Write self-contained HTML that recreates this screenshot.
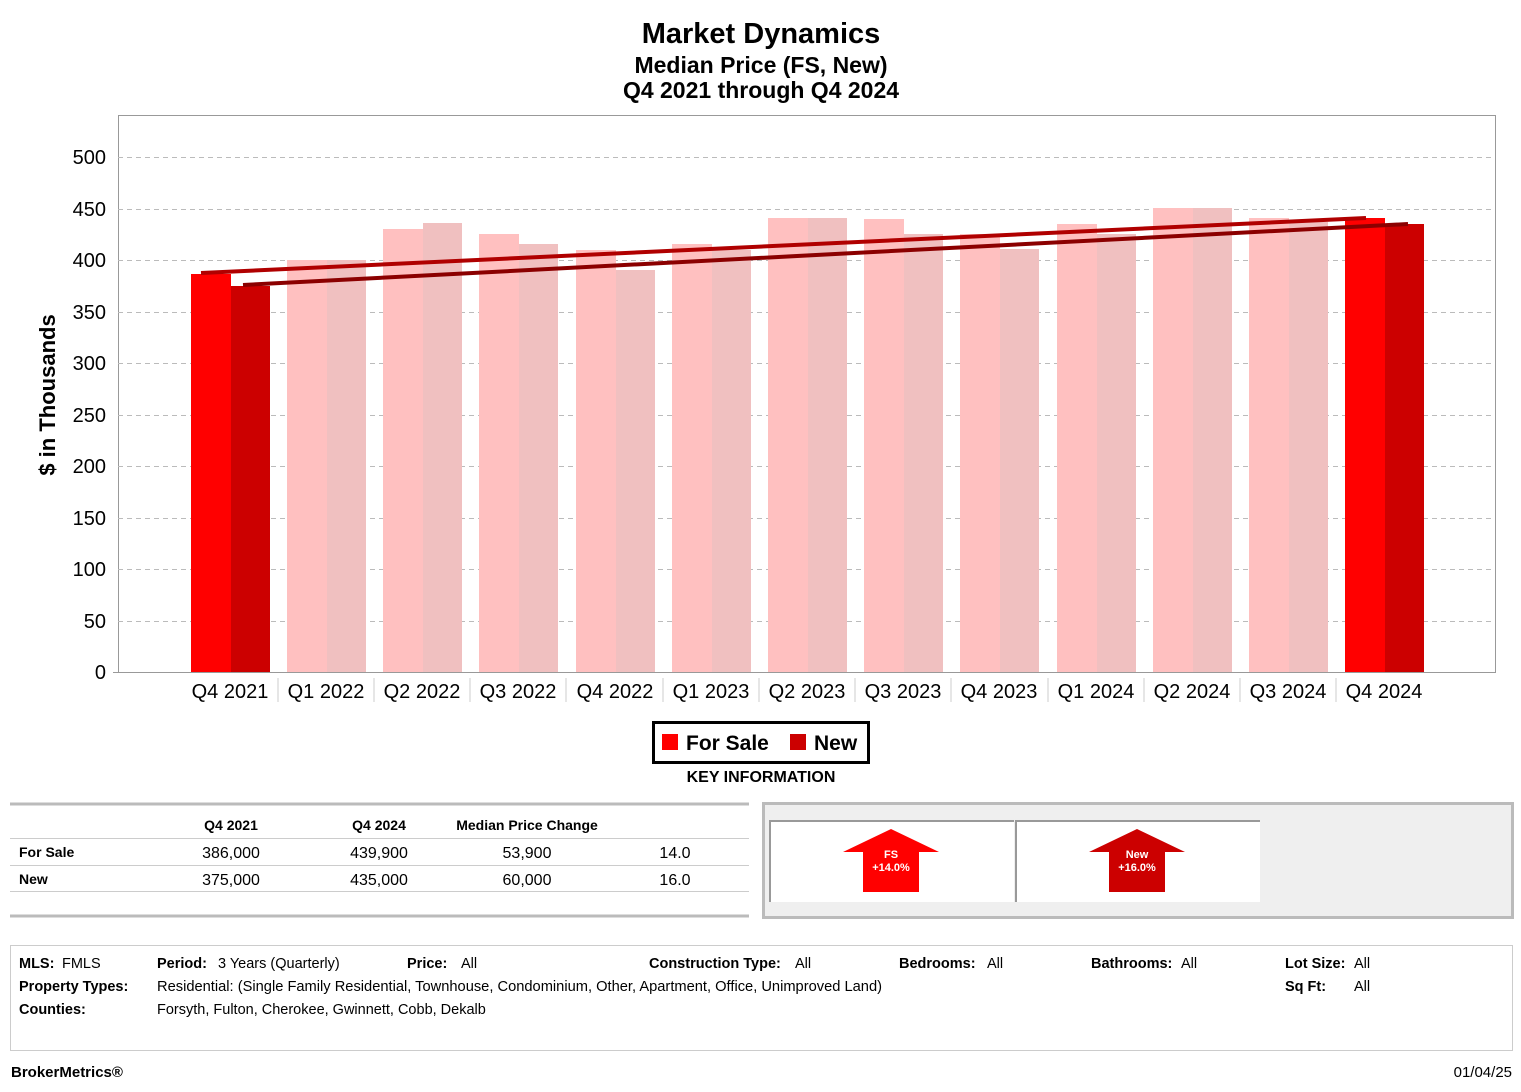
<!DOCTYPE html>
<html><head><meta charset="utf-8"><style>
body{margin:0;background:#fff;font-family:"Liberation Sans",sans-serif;}
</style></head><body>
<svg width="1521" height="1087" xmlns="http://www.w3.org/2000/svg" font-family="Liberation Sans, sans-serif">
<rect width="1521" height="1087" fill="#fff"/>
<text x="761" y="43" font-size="29" font-weight="bold" text-anchor="middle">Market Dynamics</text>
<text x="761" y="73" font-size="23" font-weight="bold" text-anchor="middle">Median Price (FS, New)</text>
<text x="761" y="98" font-size="23" font-weight="bold" text-anchor="middle">Q4 2021 through Q4 2024</text>
<rect x="118.5" y="115.5" width="1377" height="557" fill="none" stroke="#999"/>
<g stroke="#bbb" stroke-dasharray="5,4">
<line x1="118" x2="1495" y1="157.5" y2="157.5"/><line x1="118" x2="1495" y1="209.5" y2="209.5"/>
<line x1="118" x2="1495" y1="260.5" y2="260.5"/><line x1="118" x2="1495" y1="312.5" y2="312.5"/>
<line x1="118" x2="1495" y1="363.5" y2="363.5"/><line x1="118" x2="1495" y1="415.5" y2="415.5"/>
<line x1="118" x2="1495" y1="466.5" y2="466.5"/><line x1="118" x2="1495" y1="518.5" y2="518.5"/>
<line x1="118" x2="1495" y1="569.5" y2="569.5"/><line x1="118" x2="1495" y1="621.5" y2="621.5"/>
</g>
<g font-size="20" text-anchor="end">
<text x="106" y="164">500</text><text x="106" y="216">450</text><text x="106" y="267">400</text>
<text x="106" y="319">350</text><text x="106" y="370">300</text><text x="106" y="422">250</text>
<text x="106" y="473">200</text><text x="106" y="525">150</text><text x="106" y="576">100</text>
<text x="106" y="628">50</text><text x="106" y="679">0</text>
</g>
<text transform="translate(55,395) rotate(-90)" font-size="22" font-weight="bold" text-anchor="middle">$ in Thousands</text>
<g id="bars">
<rect x="191" y="274" width="40" height="398" fill="#ff0000"/><rect x="231" y="286" width="39" height="386" fill="#cc0000"/>
<rect x="287" y="260" width="40" height="412" fill="#ffc0c0"/><rect x="327" y="260" width="39" height="412" fill="#f0c0c0"/>
<rect x="383" y="229" width="40" height="443" fill="#ffc0c0"/><rect x="423" y="223" width="39" height="449" fill="#f0c0c0"/>
<rect x="479" y="234" width="40" height="438" fill="#ffc0c0"/><rect x="519" y="244" width="39" height="428" fill="#f0c0c0"/>
<rect x="576" y="250" width="40" height="422" fill="#ffc0c0"/><rect x="616" y="270" width="39" height="402" fill="#f0c0c0"/>
<rect x="672" y="244" width="40" height="428" fill="#ffc0c0"/><rect x="712" y="250" width="39" height="422" fill="#f0c0c0"/>
<rect x="768" y="218" width="40" height="454" fill="#ffc0c0"/><rect x="808" y="218" width="39" height="454" fill="#f0c0c0"/>
<rect x="864" y="219" width="40" height="453" fill="#ffc0c0"/><rect x="904" y="234" width="39" height="438" fill="#f0c0c0"/>
<rect x="960" y="234" width="40" height="438" fill="#ffc0c0"/><rect x="1000" y="249" width="39" height="423" fill="#f0c0c0"/>
<rect x="1057" y="224" width="40" height="448" fill="#ffc0c0"/><rect x="1097" y="234" width="39" height="438" fill="#f0c0c0"/>
<rect x="1153" y="208" width="40" height="464" fill="#ffc0c0"/><rect x="1193" y="208" width="39" height="464" fill="#f0c0c0"/>
<rect x="1249" y="218" width="40" height="454" fill="#ffc0c0"/><rect x="1289" y="222" width="39" height="450" fill="#f0c0c0"/>
<rect x="1345" y="218" width="40" height="454" fill="#ff0000"/><rect x="1385" y="224" width="39" height="448" fill="#cc0000"/>
</g>
<line x1="201" y1="273" x2="1366" y2="218" stroke="#b00000" stroke-width="4"/>
<line x1="243" y1="285" x2="1408" y2="224" stroke="#8b0000" stroke-width="4"/>
<line x1="113" x2="1495" y1="672.5" y2="672.5" stroke="#999"/>
<g font-size="20" text-anchor="middle">
<text x="230" y="698">Q4 2021</text><text x="326" y="698">Q1 2022</text><text x="422" y="698">Q2 2022</text>
<text x="518" y="698">Q3 2022</text><text x="615" y="698">Q4 2022</text><text x="711" y="698">Q1 2023</text>
<text x="807" y="698">Q2 2023</text><text x="903" y="698">Q3 2023</text><text x="999" y="698">Q4 2023</text>
<text x="1096" y="698">Q1 2024</text><text x="1192" y="698">Q2 2024</text><text x="1288" y="698">Q3 2024</text>
<text x="1384" y="698">Q4 2024</text>
</g>
<g stroke="#ccc"><line x1="278" x2="278" y1="678" y2="702"/><line x1="374" x2="374" y1="678" y2="702"/><line x1="470" x2="470" y1="678" y2="702"/><line x1="566" x2="566" y1="678" y2="702"/><line x1="663" x2="663" y1="678" y2="702"/><line x1="759" x2="759" y1="678" y2="702"/><line x1="855" x2="855" y1="678" y2="702"/><line x1="951" x2="951" y1="678" y2="702"/><line x1="1048" x2="1048" y1="678" y2="702"/><line x1="1144" x2="1144" y1="678" y2="702"/><line x1="1240" x2="1240" y1="678" y2="702"/><line x1="1336" x2="1336" y1="678" y2="702"/></g>
<rect x="653.5" y="722.5" width="215" height="40" fill="#fff" stroke="#000" stroke-width="3"/>
<rect x="662" y="734" width="16" height="16" fill="#ff0000"/><text x="686" y="750" font-size="21" font-weight="bold">For Sale</text>
<rect x="790" y="734" width="16" height="16" fill="#cc0000"/><text x="814" y="750" font-size="21" font-weight="bold">New</text>
<text x="761" y="782" font-size="16" font-weight="bold" text-anchor="middle">KEY INFORMATION</text>
<line x1="10" x2="749" y1="804" y2="804" stroke="#bbb" stroke-width="3"/>
<line x1="10" x2="749" y1="916" y2="916" stroke="#bbb" stroke-width="3"/>
<line x1="10" x2="749" y1="838.5" y2="838.5" stroke="#ccc"/>
<line x1="10" x2="749" y1="865.5" y2="865.5" stroke="#ccc"/>
<line x1="10" x2="749" y1="891.5" y2="891.5" stroke="#ccc"/>
<g font-size="14"><g font-weight="bold"><text x="231" y="830" text-anchor="middle">Q4 2021</text><text x="379" y="830" text-anchor="middle">Q4 2024</text><text x="527" y="830" text-anchor="middle">Median Price Change</text>
<text x="19" y="857">For Sale</text><text x="19" y="884">New</text></g>
<g font-size="16" text-anchor="middle"><text x="231" y="858">386,000</text><text x="379" y="858">439,900</text><text x="527" y="858">53,900</text><text x="675" y="858">14.0</text>
<text x="231" y="885">375,000</text><text x="379" y="885">435,000</text><text x="527" y="885">60,000</text><text x="675" y="885">16.0</text></g></g>
<rect x="763.5" y="803.5" width="749" height="114" fill="#efefef" stroke="#bbb" stroke-width="3"/>
<rect x="770" y="820" width="244" height="82" fill="#fff"/><rect x="1016" y="820" width="244" height="82" fill="#fff"/>
<path d="M770 902V821H1014" fill="none" stroke="#999" stroke-width="2"/><path d="M1016 902V821H1260" fill="none" stroke="#999" stroke-width="2"/>
<polygon points="891,829 939,852 919,852 919,892 863,892 863,852 843,852" fill="#ff0000"/>
<polygon points="1137,829 1185,852 1165,852 1165,892 1109,892 1109,852 1089,852" fill="#cc0000"/>
<g fill="#fff" font-size="11" font-weight="bold" text-anchor="middle"><text x="891" y="858">FS</text><text x="891" y="871">+14.0%</text><text x="1137" y="858">New</text><text x="1137" y="871">+16.0%</text></g>
<rect x="10.5" y="945.5" width="1502" height="105" fill="none" stroke="#ccc"/>
<g font-size="14.5"><g font-weight="bold"><text x="19" y="968">MLS:</text><text x="157" y="968">Period:</text><text x="407" y="968">Price:</text><text x="649" y="968">Construction Type:</text><text x="899" y="968">Bedrooms:</text><text x="1091" y="968">Bathrooms:</text><text x="1285" y="968">Lot Size:</text>
<text x="19" y="991">Property Types:</text><text x="1285" y="991">Sq Ft:</text><text x="19" y="1014">Counties:</text></g>
<text x="62" y="968">FMLS</text><text x="218" y="968">3 Years (Quarterly)</text><text x="461" y="968">All</text><text x="795" y="968">All</text><text x="987" y="968">All</text><text x="1181" y="968">All</text><text x="1354" y="968">All</text>
<text x="157" y="991" textLength="725" lengthAdjust="spacingAndGlyphs">Residential: (Single Family Residential, Townhouse, Condominium, Other, Apartment, Office, Unimproved Land)</text><text x="1354" y="991">All</text>
<text x="157" y="1014">Forsyth, Fulton, Cherokee, Gwinnett, Cobb, Dekalb</text>
<text x="11" y="1077" font-size="15" font-weight="bold">BrokerMetrics®</text><text x="1512" y="1077" font-size="15" text-anchor="end">01/04/25</text></g>
</svg>
</body></html>
